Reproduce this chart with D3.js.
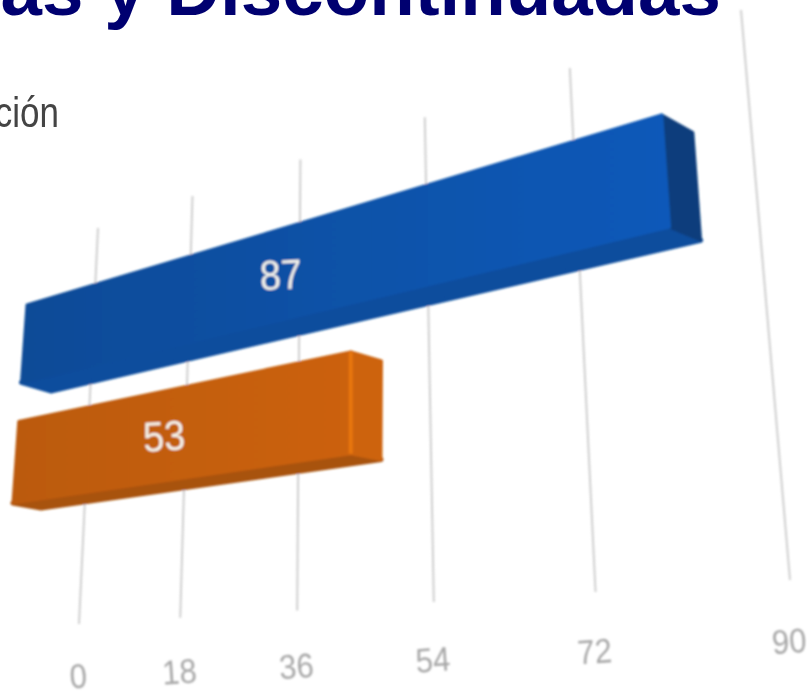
<!DOCTYPE html>
<html>
<head>
<meta charset="utf-8">
<script src="https://cdn.jsdelivr.net/npm/d3@7"></script>
<style>
html, body { margin: 0; padding: 0; background: #fff; overflow: hidden; }
text { font-family: "Liberation Sans", Arial, sans-serif; }
</style>
</head>
<body>
<svg id="chart" width="807" height="693"></svg>
<script>
// data
var rows = ["a", "b"];
var values = [87, 53];
var tickValues = [0, 18, 36, 54, 72, 90];

// bar colours: front left, front right, side, bottom
var barColors = [
	["#0b4b97", "#0b59b9", "#0a3e7c", "#0b4d9d"],
	["#bb5a0c", "#cc620c", "#cd630e", "#a85210"]
];

var svg = d3.select("#chart");

// the chart is a photo of a tilted 3D chart, so everything goes through a
// perspective map of the unit square (Heckbert's square to quad)
function quad(p0, p1, p2, p3) {
	var dx1 = p1[0] - p2[0], dx2 = p3[0] - p2[0], sx = p0[0] - p1[0] + p2[0] - p3[0];
	var dy1 = p1[1] - p2[1], dy2 = p3[1] - p2[1], sy = p0[1] - p1[1] + p2[1] - p3[1];
	var den = dx1 * dy2 - dx2 * dy1;
	var g = (sx * dy2 - dx2 * sy) / den;
	var h = (dx1 * sy - sx * dy1) / den;
	var a = p1[0] - p0[0] + g * p1[0], b = p3[0] - p0[0] + h * p3[0];
	var d = p1[1] - p0[1] + g * p1[1], e = p3[1] - p0[1] + h * p3[1];
	return function(s, t) {
		var w = g * s + h * t + 1;
		return [(a * s + b * t + p0[0]) / w, (d * s + e * t + p0[1]) / w];
	};
}

// corners of the planes: top left, top right, bottom right, bottom left
var wall = quad([98, 228], [741, 10], [790, 580], [79, 624]);
var front = quad([27, 305], [695, 105], [718, 400], [13, 503]);
var back = quad([57, 316], [726, 123], [749, 407], [41, 508]);

var x = d3.scaleLinear().domain([0, 90]).range([0, 1]);
var y = d3.scaleBand().domain(rows).range([0, 1]).paddingInner(0.33);
// tick labels sit a bit further from the wall towards the right
var tickGap = d3.scaleLinear().domain([0, 90]).range([64, 73]);

var defs = svg.append("defs");
var blur = defs.append("filter").attr("id", "soft")
	.attr("x", "-5%").attr("y", "-5%").attr("width", "110%").attr("height", "110%");
blur.append("feGaussianBlur").attr("stdDeviation", 0.9);

barColors.forEach(function(c, i) {
	var grad = defs.append("linearGradient").attr("id", "front" + i);
	grad.append("stop").attr("offset", "0%").attr("stop-color", c[0]);
	grad.append("stop").attr("offset", "100%").attr("stop-color", c[1]);
});

var line = d3.line();
var plot = svg.append("g").attr("filter", "url(#soft)");

// grid on the back wall
plot.selectAll(".grid")
	.data(tickValues)
	.enter().append("path")
	.attr("class", "grid")
	.attr("d", function(d) { return line([wall(x(d), 0), wall(x(d), 1)]); })
	.attr("fill", "none")
	.attr("stroke", "#cfcfcf")
	.attr("stroke-width", 2);

var bar = plot.selectAll(".bar")
	.data(values)
	.enter().append("g")
	.attr("class", "bar");

// bottom
bar.append("path")
	.attr("d", function(d, i) {
		var b = y(rows[i]) + y.bandwidth();
		return line([front(0, b), front(x(d), b), back(x(d), b), back(0, b)]) + "Z";
	})
	.attr("fill", function(d, i) { return barColors[i][3]; })
	.attr("stroke", function(d, i) { return barColors[i][3]; })
	.attr("stroke-width", 5)
	.attr("stroke-linejoin", "round");

// side
bar.append("path")
	.attr("d", function(d, i) {
		var t = y(rows[i]), b = t + y.bandwidth();
		return line([front(x(d), t), back(x(d), t), back(x(d), b), front(x(d), b)]) + "Z";
	})
	.attr("fill", function(d, i) { return barColors[i][2]; })
	.attr("stroke", function(d, i) { return barColors[i][2]; })
	.attr("stroke-width", 3)
	.attr("stroke-linejoin", "round");

// front
bar.append("path")
	.attr("d", function(d, i) {
		var t = y(rows[i]), b = t + y.bandwidth();
		return line([front(0, t), front(x(d), t), front(x(d), b), front(0, b)]) + "Z";
	})
	.attr("fill", function(d, i) { return "url(#front" + i + ")"; })
	.attr("stroke", function(d, i) { return "url(#front" + i + ")"; })
	.attr("stroke-width", 3)
	.attr("stroke-linejoin", "round");

// bright edge on the orange bar
bar.filter(function(d, i) { return i == 1; }).append("path")
	.attr("d", function(d) {
		var t = y(rows[1]), b = t + y.bandwidth();
		return line([front(x(d), t), front(x(d), b)]);
	})
	.attr("stroke", "#e8760f")
	.attr("stroke-width", 4)
	.attr("fill", "none");

// value labels
plot.selectAll(".val")
	.data(values)
	.enter().append("text")
	.attr("class", "val")
	.attr("text-anchor", "middle")
	.attr("transform", function(d, i) {
		var p = front(x(d / 2), y(rows[i]) + y.bandwidth() / 2);
		return "translate(" + (p[0] + 1) + "," + (p[1] + 15) + ") rotate(-3) scale(1,1.1)";
	})
	.attr("font-size", 38)
	.attr("fill", "#f4f1ea")
	.text(function(d) { return d; });

// axis labels under the wall
plot.selectAll(".tick")
	.data(tickValues)
	.enter().append("text")
	.attr("class", "tick")
	.attr("text-anchor", "middle")
	.attr("transform", function(d) {
		var p = wall(x(d), 1);
		return "translate(" + p[0] + "," + (p[1] + tickGap(d)) + ") rotate(-4) scale(1,1.1)";
	})
	.attr("font-size", 31)
	.attr("fill", "#a8a8a8")
	.text(function(d) { return d; });

svg.append("text")
	.attr("x", 721)
	.attr("y", 15)
	.attr("text-anchor", "end")
	.attr("font-size", 74.5)
	.attr("font-weight", "bold")
	.attr("fill", "#000070")
	.text("as y Discontinuadas");

svg.append("text")
	.attr("transform", "translate(59,127) scale(1,1.2)")
	.attr("text-anchor", "end")
	.attr("font-size", 35)
	.attr("fill", "#444444")
	.text("ción");
</script>
</body>
</html>
